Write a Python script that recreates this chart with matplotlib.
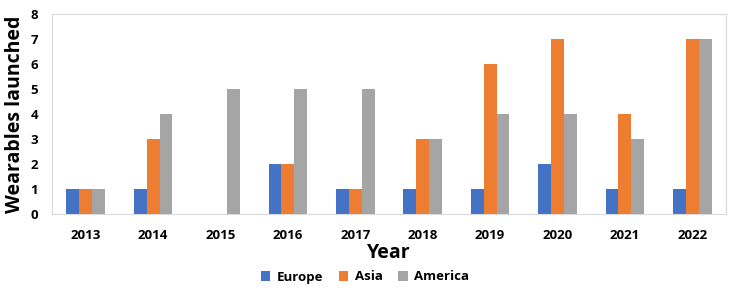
import matplotlib
matplotlib.use("Agg")
import matplotlib.pyplot as plt
import numpy as np

years = ["2013", "2014", "2015", "2016", "2017", "2018", "2019", "2020", "2021", "2022"]
europe = [1, 1, 0, 2, 1, 1, 1, 2, 1, 1]
asia = [1, 3, 0, 2, 1, 3, 6, 7, 4, 7]
america = [1, 4, 5, 5, 5, 3, 4, 4, 3, 7]
series_names = ["Europe", "Asia", "America"]
colors = ["#4472C4", "#ED7D31", "#A5A5A5"]

plt.rcParams['font.family'] = ['Open Sans', 'DejaVu Sans']

fig = plt.figure(figsize=(7.33, 2.92), dpi=100)
ax = fig.add_axes([52/733, 1 - 214/292, (726-52)/733, 200/292])

x = np.arange(len(years))
w = 0.19
for i, (vals, name, c) in enumerate(zip([europe, asia, america], series_names, colors)):
    ax.bar(x + (i - 1) * w, vals, width=w, color=c, label=name, zorder=2)

ax.set_xlim(-0.5, len(years) - 0.5)
ax.set_ylim(0, 8)
ax.set_yticks(range(0, 9))
ax.set_xticks(x)
ax.set_xticklabels(years)
for lab in ax.get_xticklabels() + ax.get_yticklabels():
    lab.set_fontweight('bold')
    lab.set_fontsize(9.5)
ax.tick_params(axis='x', length=0, pad=11)
ax.tick_params(axis='y', length=0, pad=10)
for s in ax.spines.values():
    s.set_color('#D9D9D9')
    s.set_linewidth(0.8)

ax.set_xlabel("Year", fontsize=14, fontweight='bold')
ax.xaxis.set_label_coords(0.5, -(253 - 214) / 200)
ax.xaxis.label.set_va('center')
ax.set_ylabel("Wearables launched", fontsize=14, fontweight='bold')
ax.yaxis.set_label_coords(-(52 - 15) / 674, 0.5)
ax.yaxis.label.set_va('center')

fig.legend(loc='center', bbox_to_anchor=(0.498, 1 - 277/292), ncol=3, frameon=False,
           prop={'weight': 'bold', 'size': 9.5}, handlelength=0.7, handleheight=0.7,
           columnspacing=1.2, handletextpad=0.5)

fig.savefig("out.png", dpi=100)
